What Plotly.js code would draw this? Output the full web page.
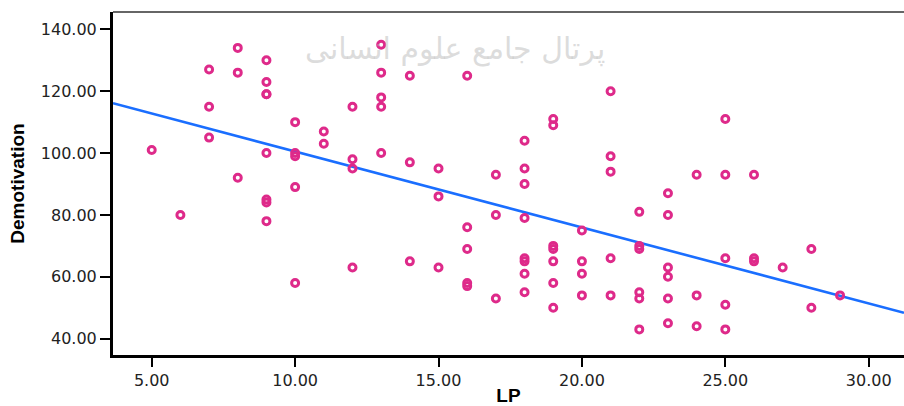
<!DOCTYPE html>
<html>
<head>
<meta charset="utf-8">
<script src="https://cdn.plot.ly/plotly-3.0.1.min.js"></script>
<style>
  html, body { margin: 0; padding: 0; background: #ffffff; }
  #chart { width: 904px; height: 406px; }
</style>
</head>
<body>
<div id="chart"></div>
<script>
// ---- Data ----
const lp = [
  5,
  6,
  7, 7, 7,
  8, 8, 8,
  9, 9, 9, 9, 9, 9, 9, 9,
  10, 10, 10, 10, 10,
  11, 11,
  12, 12, 12, 12,
  13, 13, 13, 13, 13,
  14, 14, 14,
  15, 15, 15,
  16, 16, 16, 16, 16,
  17, 17, 17,
  18, 18, 18, 18, 18, 18, 18, 18,
  19, 19, 19, 19, 19, 19, 19,
  20, 20, 20, 20,
  21, 21, 21, 21, 21,
  22, 22, 22, 22, 22, 22,
  23, 23, 23, 23, 23, 23,
  24, 24, 24,
  25, 25, 25, 25, 25,
  26, 26, 26,
  27,
  28, 28,
  29
];
const demotivation = [
  101,
  80,
  127, 115, 105,
  134, 126, 92,
  130, 123, 119, 119, 100, 85, 84, 78,
  110, 100, 99, 89, 58,
  107, 103,
  115, 98, 95, 63,
  135, 126, 118, 115, 100,
  125, 97, 65,
  95, 86, 63,
  125, 76, 69, 58, 57,
  93, 80, 53,
  104, 95, 90, 79, 66, 65, 61, 55,
  111, 109, 70, 69, 65, 58, 50,
  75, 65, 61, 54,
  120, 99, 94, 66, 54,
  81, 70, 69, 55, 53, 43,
  87, 80, 63, 60, 53, 45,
  93, 54, 44,
  111, 93, 66, 51, 43,
  93, 66, 65,
  63,
  69, 50,
  54
];
// Fit line (linear regression)
const fitIntercept = 125.06;
const fitSlope = -2.455;
const xRange = [3.65, 31.23];
const yRange = [34.73, 145.6];
const xTitle = "LP";
const yTitle = "Demotivation";
const watermark = "پرتال جامع علوم انسانی";

const fitX = [xRange[0], xRange[1]];
const fitY = fitX.map(v => fitIntercept + fitSlope * v);

const traces = [
  {
    x: fitX, y: fitY, type: "scatter", mode: "lines",
    line: { color: "#1a6eff", width: 2.6 },
    hoverinfo: "skip", showlegend: false
  },
  {
    x: lp, y: demotivation, type: "scatter", mode: "markers",
    marker: { symbol: "circle-open", size: 7, color: "#de2a8a",
              line: { width: 3, color: "#de2a8a" } },
    showlegend: false
  }
];

const tickFont = { family: "DejaVu Sans, Arial, sans-serif", size: 16, color: "#222222" };

const layout = {
  width: 904, height: 406,
  margin: { l: 113, r: 0, t: 12, b: 51 },
  paper_bgcolor: "#ffffff", plot_bgcolor: "#ffffff",
  showlegend: false,
  xaxis: {
    range: xRange, tick0: 5, dtick: 5, tickformat: ".2f",
    showgrid: false, zeroline: false,
    showline: true, linecolor: "#000000", linewidth: 3,
    ticks: "outside", ticklen: 9, tickwidth: 2, tickcolor: "#000000",
    tickfont: tickFont,
    title: { text: xTitle, standoff: 8,
             font: { family: "Liberation Sans, Arial, sans-serif", size: 19, color: "#000000", weight: "bold" } }
  },
  yaxis: {
    range: yRange, tick0: 40, dtick: 20, tickformat: ".2f",
    showgrid: false, zeroline: false,
    showline: true, linecolor: "#000000", linewidth: 3,
    ticks: "outside", ticklen: 10, tickwidth: 2, tickcolor: "#000000",
    tickfont: tickFont,
    title: { text: yTitle, standoff: 12,
             font: { family: "Liberation Sans Narrow, Liberation Sans, Arial, sans-serif", size: 19, color: "#000000", weight: "bold" } }
  },
  shapes: [
    { type: "line", xref: "paper", yref: "paper", x0: 0, x1: 1, y0: 1, y1: 1,
      line: { color: "#333333", width: 1.5 } }
  ],
  annotations: [
    { text: watermark, xref: "paper", yref: "paper", x: 0.432, y: 0.95,
      showarrow: false, font: { family: "DejaVu Sans, sans-serif", size: 30, color: "rgba(185,185,185,0.5)" } }
  ]
};

Plotly.newPlot("chart", traces, layout, { displayModeBar: false, staticPlot: true });
</script>
</body>
</html>
